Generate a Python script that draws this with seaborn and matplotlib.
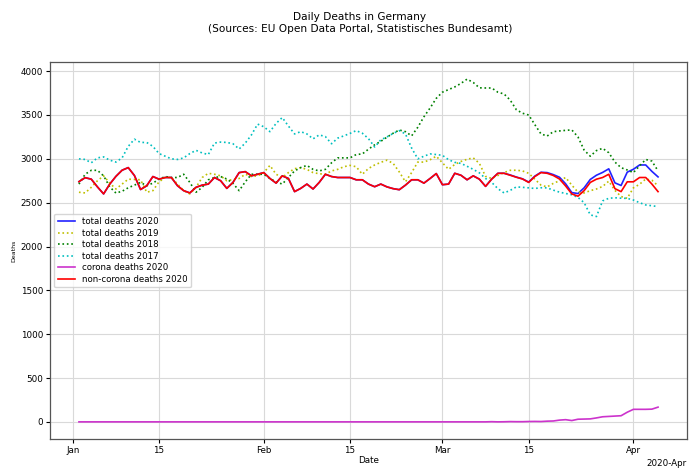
import numpy as np
import pandas as pd
import matplotlib
matplotlib.use("Agg")
import matplotlib.pyplot as plt
import matplotlib.dates as mdates
import seaborn as sns

# ---- data (daily values, 2020-01-02 .. 2020-04-05) ----
start_date = "2020-01-02"
n_days = 95

total_2020 = [2740, 2785, 2768, 2680, 2600, 2712, 2800, 2870, 2900, 2810,
              2650, 2693, 2798, 2768, 2787, 2787, 2693, 2637, 2611, 2675,
              2700, 2712, 2787, 2750, 2663, 2731, 2843, 2854, 2806, 2824,
              2843, 2776, 2723, 2806, 2776, 2626, 2663, 2712, 2656, 2731,
              2824, 2798, 2787, 2787, 2787, 2761, 2761, 2712, 2682, 2712,
              2680, 2660, 2648, 2700, 2761, 2761, 2723, 2776, 2832, 2705,
              2712, 2835, 2813, 2761, 2806, 2768, 2686, 2770, 2835, 2836,
              2816, 2792, 2772, 2735, 2803, 2847, 2843, 2820, 2790, 2715,
              2615, 2604, 2669, 2765, 2813, 2845, 2886, 2726, 2696, 2848,
              2881, 2930, 2930, 2857, 2794]

total_2019 = [2619, 2611, 2675, 2750, 2806, 2723, 2656, 2712, 2768, 2765,
              2761, 2619, 2637, 2738, 2787, 2787, 2712, 2637, 2600, 2675,
              2787, 2835, 2824, 2806, 2750, 2765, 2776, 2824, 2798, 2806,
              2843, 2925, 2824, 2787, 2843, 2888, 2899, 2880, 2843, 2830,
              2824, 2862, 2880, 2910, 2925, 2910, 2824, 2890, 2930, 2960,
              2985, 2948, 2850, 2738, 2843, 2963, 2963, 2990, 3030, 2955,
              2880, 2936, 2970, 2995, 3011, 2948, 2800, 2776, 2810, 2843,
              2869, 2870, 2862, 2835, 2768, 2700, 2680, 2720, 2750, 2787,
              2700, 2620, 2611, 2637, 2656, 2685, 2745, 2640, 2570, 2550,
              2669, 2710, 2770, 2756, 2692]

total_2018 = [2712, 2824, 2869, 2869, 2806, 2680, 2610, 2630, 2670, 2700,
              2731, 2693, 2723, 2768, 2798, 2787, 2787, 2824, 2731, 2619,
              2675, 2761, 2787, 2798, 2770, 2720, 2637, 2738, 2824, 2824,
              2824, 2776, 2738, 2712, 2787, 2862, 2900, 2925, 2880, 2862,
              2880, 2955, 3011, 3011, 3011, 3049, 3056, 3110, 3160, 3200,
              3247, 3292, 3329, 3310, 3262, 3360, 3480, 3580, 3690, 3760,
              3790, 3820, 3860, 3909, 3871, 3810, 3808, 3808, 3760, 3740,
              3670, 3560, 3520, 3500, 3390, 3284, 3260, 3310, 3318, 3325,
              3330, 3250, 3100, 3030, 3094, 3120, 3070, 2963, 2899, 2873,
              2843, 2920, 2993, 2974, 2862]

total_2017 = [3000, 2993, 2955, 3011, 3022, 2985, 2963, 3011, 3142, 3224,
              3187, 3187, 3142, 3060, 3030, 3000, 2993, 3011, 3060, 3097,
              3067, 3049, 3180, 3191, 3187, 3172, 3112, 3180, 3273, 3396,
              3366, 3310, 3404, 3471, 3374, 3284, 3310, 3284, 3228, 3273,
              3254, 3172, 3236, 3262, 3290, 3322, 3292, 3230, 3135, 3217,
              3250, 3290, 3322, 3284, 3123, 3000, 3030, 3056, 3049, 3040,
              2990, 2960, 2948, 2915, 2880, 2840, 2776, 2731, 2660, 2611,
              2640, 2680, 2675, 2669, 2662, 2670, 2669, 2643, 2620, 2605,
              2590, 2560, 2500, 2361, 2342, 2520, 2550, 2556, 2551, 2549,
              2530, 2500, 2474, 2465, 2455]

corona_2020 = [0] * 67 + [2, 0, 1, 3, 2, 2, 4, 5, 4, 8,
                          10, 20, 25, 15, 30, 32, 34, 45, 58, 62,
                          66, 70, 110, 143, 143, 143, 145, 168]

dates = pd.date_range(start_date, periods=n_days, freq="D")
non_corona_2020 = np.array(total_2020) - np.array(corona_2020)

df = pd.DataFrame({
    "Date": dates,
    "total deaths 2020": total_2020,
    "total deaths 2019": total_2019,
    "total deaths 2018": total_2018,
    "total deaths 2017": total_2017,
    "corona deaths 2020": corona_2020,
    "non-corona deaths 2020": non_corona_2020,
})

series = [
    ("total deaths 2020", "#2222ff", "-"),
    ("total deaths 2019", "#bfbf00", ":"),
    ("total deaths 2018", "#008000", ":"),
    ("total deaths 2017", "#00bfbf", ":"),
    ("corona deaths 2020", "#cc33cc", "-"),
    ("non-corona deaths 2020", "#ff0000", "-"),
]

plt.rcParams["font.family"] = ["DejaVu Sans"]
plt.rcParams["font.size"] = 6.3

fig = plt.figure(figsize=(6.9, 4.7), dpi=100)
ax = fig.add_axes([50 / 690, 31 / 470, 637 / 690, 377 / 470])

for name, col, ls in series:
    sns.lineplot(data=df, x="Date", y=name, color=col, linestyle=ls,
                 linewidth=1.2, label=name, ax=ax)

ax.grid(True, color="#d9d9d9", linewidth=0.8)
ax.set_axisbelow(True)
ax.set_ylabel("Deaths", fontsize=4.5, labelpad=3)
ax.set_xlabel("Date", fontsize=6.3, labelpad=1)

locator = mdates.DayLocator(bymonthday=[1, 15])
ax.xaxis.set_major_locator(locator)
ax.xaxis.set_major_formatter(mdates.ConciseDateFormatter(locator))
ax.tick_params(labelsize=6.3, length=3, pad=2)

for sp in ax.spines.values():
    sp.set_color("#555555")
    sp.set_linewidth(0.9)

ax.legend(loc="center left", fontsize=6.2, framealpha=0.8,
          handlelength=2.0, borderpad=0.4, labelspacing=0.3)

fig.text(360 / 690, 1 - 23 / 470,
         "Daily Deaths in Germany\n(Sources: EU Open Data Portal, Statistisches Bundesamt)",
         ha="center", va="center", fontsize=7.6, linespacing=1.25)

fig.savefig("out.png", dpi=100)
